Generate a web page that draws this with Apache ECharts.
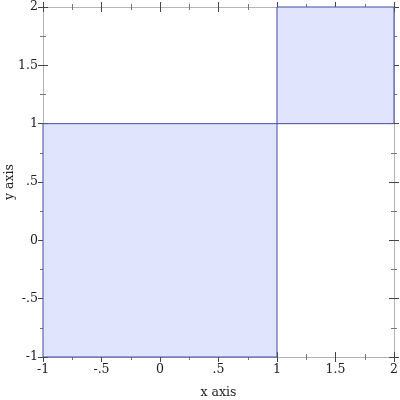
<!DOCTYPE html>
<html>
<head>
<meta charset="utf-8">
<script src="https://cdn.jsdelivr.net/npm/echarts@6/dist/echarts.min.js"></script>
<style>html,body{margin:0;padding:0;background:#fff}#c{width:400px;height:400px}</style>
</head>
<body>
<div id="c"></div>
<script>
// Rectangles: [xmin, xmax] x [ymin, ymax]
var rectXMin = [-1, 1];
var rectXMax = [1, 2];
var rectYMin = [-1, 1];
var rectYMax = [1, 2];
var xTickValues = [-1, -0.5, 0, 0.5, 1, 1.5, 2];
var xTickLabels = ['-1', '-.5', '0', '.5', '1', '1.5', '2'];
var yTickValues = [-1, -0.5, 0, 0.5, 1, 1.5, 2];
var yTickLabels = ['-1', '-.5', '0', '.5', '1', '1.5', '2'];

function labelFor(values, labels) {
  return function (v) {
    for (var i = 0; i < values.length; i++) {
      if (Math.abs(values[i] - v) < 1e-9) return labels[i];
    }
    return '';
  };
}

var FONT = 'DejaVu Serif';
var AXIS_COLOR = '#b4b4b4';
var TICK_COLOR = '#444';

function makeAxis(pos, inside, showLabel, showLine, values, labels, name) {
  var ax = {
    type: 'value', position: pos, min: -1, max: 2, interval: 0.5,
    splitLine: { show: false },
    axisLine: { show: showLine, onZero: false, lineStyle: { color: AXIS_COLOR, width: 1 } },
    axisTick: { show: true, inside: inside, length: 5, lineStyle: { color: TICK_COLOR, width: 1 } },
    minorTick: { show: true, splitNumber: 2, length: 3, lineStyle: { color: '#777', width: 1 } },
    axisLabel: {
      show: showLabel, fontFamily: FONT, fontSize: 12.5, color: '#222',
      formatter: labelFor(values, labels), margin: 6
    }
  };
  if (name) {
    ax.name = name;
    ax.nameLocation = 'middle';
    ax.nameMoveOverlap = false;
    ax.nameTextStyle = { fontFamily: FONT, fontSize: 12.5, color: '#222' };
  }
  return ax;
}

var xAxes = [
  makeAxis('bottom', false, true, true, xTickValues, xTickLabels, 'x axis'),
  makeAxis('bottom', true, false, false, xTickValues, xTickLabels),
  makeAxis('top', false, false, true, xTickValues, xTickLabels),
  makeAxis('top', true, false, false, xTickValues, xTickLabels)
];
xAxes[0].nameGap = 29;
var yAxes = [
  makeAxis('left', false, true, true, yTickValues, yTickLabels, 'y axis'),
  makeAxis('left', true, false, false, yTickValues, yTickLabels),
  makeAxis('right', false, false, true, yTickValues, yTickLabels),
  makeAxis('right', true, false, false, yTickValues, yTickLabels)
];
yAxes[0].nameGap = 27;
yAxes[0].axisLabel.margin = 5;

var rectData = rectXMin.map(function (v, i) {
  return [rectXMin[i], rectXMax[i], rectYMin[i], rectYMax[i]];
});

var chart = echarts.init(document.getElementById('c'), null, { renderer: 'canvas' });
chart.setOption({
  animation: false,
  grid: { left: 43, right: 6, top: 7, bottom: 43, containLabel: false, outerBoundsMode: 'none' },
  xAxis: xAxes,
  yAxis: yAxes,
  series: [{
    type: 'custom',
    xAxisIndex: 0, yAxisIndex: 0,
    data: rectData,
    encode: { x: [0, 1], y: [2, 3] },
    renderItem: function (params, api) {
      var p1 = api.coord([api.value(0), api.value(3)]);
      var p2 = api.coord([api.value(1), api.value(2)]);
      return {
        type: 'rect',
        shape: { x: p1[0], y: p1[1], width: p2[0] - p1[0], height: p2[1] - p1[1] },
        style: { fill: '#e0e4fc', stroke: '#4549ac', lineWidth: 1 }
      };
    }
  }]
});
</script>
</body>
</html>
